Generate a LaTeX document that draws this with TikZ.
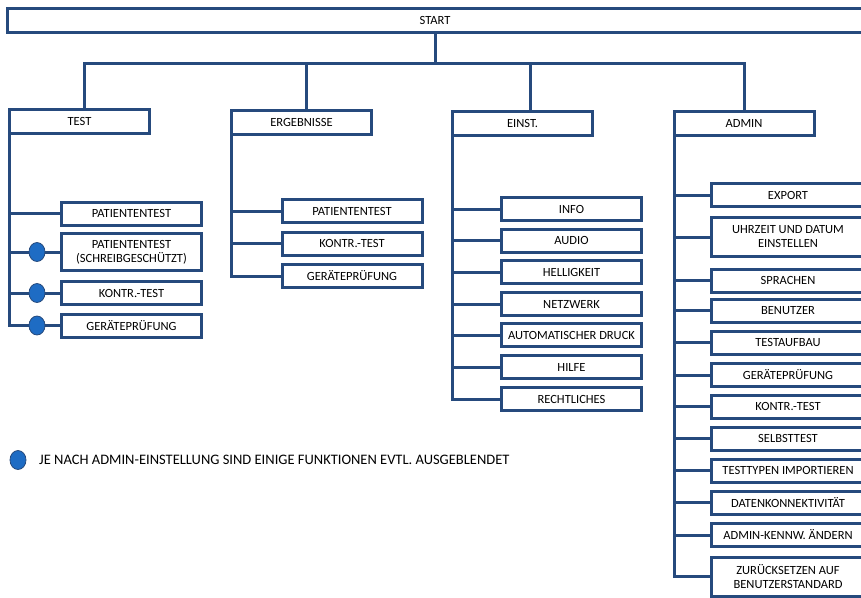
\documentclass[tikz,border=0pt]{standalone}
\usepackage{fontspec}
\setmainfont{Carlito}
\usetikzlibrary{shapes.geometric}
\definecolor{menublue}{RGB}{38,74,125}
\definecolor{dotblue}{RGB}{30,108,196}

\begin{document}
\begin{tikzpicture}[x=1pt, y=-1pt,
    menubox/.style={draw=menublue, line width=3pt, fill=white, outer sep=0pt,
        inner sep=1pt, align=center, font=\fontsize{12.5}{14}\selectfont,
        minimum width=140pt, minimum height=24pt},
    subbox/.style={menubox, minimum height=23pt},
    adminbox/.style={menubox, minimum width=153pt, minimum height=23pt},
    link/.style={draw=menublue, line width=3pt},
    dot/.style={ellipse, draw=menublue, line width=0.8pt, fill=dotblue,
        minimum width=16pt, minimum height=19pt, inner sep=0pt}]

    \useasboundingbox (0,0) rectangle (861,597);

    % top level
    \node[menubox, minimum width=856pt] (start) at (435,20.5) {START};

    \node[menubox] (test) at (79.5,121) {TEST};
    \node[menubox] (erg) at (301.5,122) {ERGEBNISSE};
    \node[menubox] (einst) at (522.5,123) {EINST.};
    \node[menubox] (admin) at (744,123) {ADMIN};

    \coordinate (bus) at (435,63);
    \draw[link] (start.south) -- (bus);
    \draw[link] ([xshift=5pt]test.north) |- (bus) -| (admin.north);
    \draw[link] ([xshift=5pt]erg.north) -- ([xshift=5pt]erg.north |- bus);
    \draw[link] ([xshift=8pt]einst.north) -- ([xshift=8pt]einst.north |- bus);

    % TEST
    \node[subbox] (t1) at (131.5,213.5) {PATIENTENTEST};
    \node[subbox, minimum height=37pt] (t2) at (131.5,252) {PATIENTENTEST\\(SCHREIBGESCHÜTZT)};
    \node[subbox] (t3) at (131.5,293) {KONTR.-TEST};
    \node[subbox] (t4) at (131.5,325.5) {GERÄTEPRÜFUNG};

    \draw[link] (test.south west) |- (t4.west);
    \draw[link] (test.south west |- t1.west) -- (t1.west);
    \draw[link] (test.south west |- t2.west) -- (t2.west);
    \draw[link] (test.south west |- t3.west) -- (t3.west);

    \node[dot] (d2) at (37,252) {};
    \node[dot] (d3) at (37,293) {};
    \node[dot] (d4) at (37,325.5) {};

    % ERGEBNISSE
    \node[subbox] (e1) at (352,211) {PATIENTENTEST};
    \node[subbox] (e2) at (352,243.5) {KONTR.-TEST};
    \node[subbox] (e3) at (352,276) {GERÄTEPRÜFUNG};

    \draw[link] (erg.south west) |- (e3.west);
    \draw[link] (erg.south west |- e1.west) -- (e1.west);
    \draw[link] (erg.south west |- e2.west) -- (e2.west);

    % EINST.
    \node[subbox] (i1) at (571.5,209) {INFO};
    \node[subbox] (i2) at (571.5,240.5) {AUDIO};
    \node[subbox] (i3) at (571.5,272) {HELLIGKEIT};
    \node[subbox] (i4) at (571.5,304) {NETZWERK};
    \node[subbox] (i5) at (571.5,335) {AUTOMATISCHER DRUCK};
    \node[subbox] (i6) at (571.5,367) {HILFE};
    \node[subbox] (i7) at (571.5,399) {RECHTLICHES};

    \draw[link] (einst.south west) |- (i7.west);
    \draw[link] (einst.south west |- i1.west) -- (i1.west);
    \draw[link] (einst.south west |- i2.west) -- (i2.west);
    \draw[link] (einst.south west |- i3.west) -- (i3.west);
    \draw[link] (einst.south west |- i4.west) -- (i4.west);
    \draw[link] (einst.south west |- i5.west) -- (i5.west);
    \draw[link] (einst.south west |- i6.west) -- (i6.west);

    % ADMIN
    \node[adminbox] (a1) at (788,195) {EXPORT};
    \node[adminbox, minimum height=39pt] (a2) at (788,237) {UHRZEIT UND DATUM\\EINSTELLEN};
    \node[adminbox] (a3) at (788,280.5) {SPRACHEN};
    \node[adminbox] (a4) at (788,310.5) {BENUTZER};
    \node[adminbox] (a5) at (788,342.5) {TESTAUFBAU};
    \node[adminbox] (a6) at (788,375) {GERÄTEPRÜFUNG};
    \node[adminbox] (a7) at (788,406.5) {KONTR.-TEST};
    \node[adminbox] (a8) at (788,438.5) {SELBSTTEST};
    \node[adminbox] (a9) at (788,470.5) {TESTTYPEN IMPORTIEREN};
    \node[adminbox] (a10) at (788,502.5) {DATENKONNEKTIVITÄT};
    \node[adminbox] (a11) at (788,535) {ADMIN-KENNW. ÄNDERN};
    \node[adminbox, minimum height=39pt] (a12) at (788,576.5) {ZURÜCKSETZEN AUF\\BENUTZERSTANDARD};

    \draw[link] (admin.south west) |- (a12.west);
    \draw[link] (admin.south west |- a1.west) -- (a1.west);
    \draw[link] (admin.south west |- a2.west) -- (a2.west);
    \draw[link] (admin.south west |- a3.west) -- (a3.west);
    \draw[link] (admin.south west |- a4.west) -- (a4.west);
    \draw[link] (admin.south west |- a5.west) -- (a5.west);
    \draw[link] (admin.south west |- a6.west) -- (a6.west);
    \draw[link] (admin.south west |- a7.west) -- (a7.west);
    \draw[link] (admin.south west |- a8.west) -- (a8.west);
    \draw[link] (admin.south west |- a9.west) -- (a9.west);
    \draw[link] (admin.south west |- a10.west) -- (a10.west);
    \draw[link] (admin.south west |- a11.west) -- (a11.west);

    % legend
    \node[dot] (key) at (18,460) {};
    \node[anchor=west, inner sep=3pt, font=\fontsize{14.5}{16}\selectfont] (keytext) at (36,460)
        {JE NACH ADMIN-EINSTELLUNG SIND EINIGE FUNKTIONEN EVTL. AUSGEBLENDET};

\end{tikzpicture}
\end{document}
